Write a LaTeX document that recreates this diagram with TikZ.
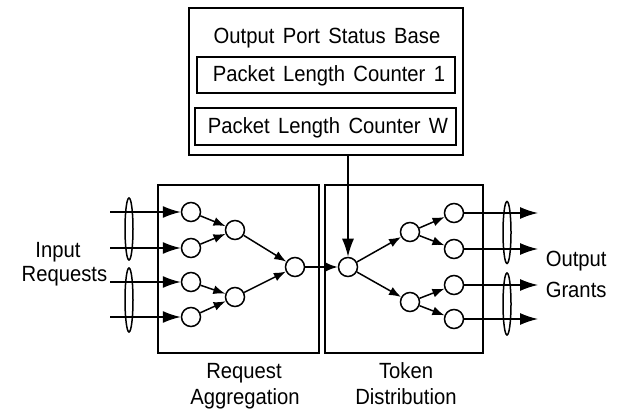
\documentclass[tikz,border=0pt]{standalone}
\usepackage{fontspec}
\setmainfont[WordSpace=1.5,FakeStretch=0.92]{Liberation Sans}
\usetikzlibrary{arrows.meta}
\tikzset{
  sw/.style={draw,circle,minimum size=19pt,inner sep=0pt,fill=white},
  blk/.style={draw,inner sep=0pt},
  lbl/.style={font=\fontsize{22}{25}\selectfont,inner sep=0pt},
  inarr/.style={-{Latex[length=18pt,width=12pt]}},
  arr/.style={-{Latex[length=12pt,width=9pt]}}
}
\begin{document}
\begin{tikzpicture}[x=1pt,y=-1pt,line width=1.5pt]
	\useasboundingbox (0,0) rectangle (623,411);
	\node[blk,minimum width=274,minimum height=147] (osb) at (326,81.5) {};
	\node[lbl,anchor=base] (osbt) at (327,44) {Output Port Status Base};
	\node[blk,minimum width=258,minimum height=36] (plc1) at (326,75) {};
	\node[lbl,anchor=base] (plc1t) at (329,82) {Packet Length Counter 1};
	\node[blk,minimum width=261,minimum height=37] (plcw) at (325.5,126.5) {};
	\node[lbl,anchor=base] (plcwt) at (328,133.5) {Packet Length Counter W};
	\node[blk,minimum width=161,minimum height=168] (agg) at (238.5,269) {};
	\node[blk,minimum width=158,minimum height=168] (tok) at (404,269) {};
	\node[lbl,anchor=base] (aggt1) at (244,378) {Request};
	\node[lbl,anchor=base] (aggt2) at (245,404) {Aggregation};
	\node[lbl,anchor=base] (tokt1) at (406,378) {Token};
	\node[lbl,anchor=base] (tokt2) at (406,404) {Distribution};
	\node[lbl,anchor=base] (inpt1) at (58,258) {Input};
	\node[lbl,anchor=base east] (inpt2) at (108,282) {Requests};
	\node[lbl,anchor=base west] (outt1) at (545,267) {Output};
	\node[lbl,anchor=base west] (outt2) at (545,298) {Grants};
	\foreach \n/\y in {1/212,2/248,3/282,4/317} {
		\node[sw] (a\n) at (191,\y) {};
		\coordinate (in\n) at (110,\y);
	}
	\foreach \n/\y in {1/213,2/249,3/285,4/319} {
		\node[sw] (v\n) at (454,\y) {};
		\coordinate (out\n) at (538,\y);
	}
	\node[sw] (b1) at (235,230) {};
	\node[sw] (b2) at (235,297) {};
	\node[sw] (c) at (295,267) {};
	\node[sw] (t0) at (348,267) {};
	\node[sw] (u1) at (410,232) {};
	\node[sw] (u2) at (410,302) {};
	\foreach \n in {1,...,4} {
		\draw[inarr] (in\n) -- (a\n);
		\draw[inarr] (v\n) -- (out\n);
	}
	\draw[arr] (a1) -- (b1);
	\draw[arr] (a2) -- (b1);
	\draw[arr] (a3) -- (b2);
	\draw[arr] (a4) -- (b2);
	\draw[arr] (b1) -- (c);
	\draw[arr] (b2) -- (c);
	\draw[arr] (c) -- (t0);
	\draw[inarr] (osb.south -| t0.north) -- (t0.north);
	\draw[arr] (t0) -- (u1);
	\draw[arr] (t0) -- (u2);
	\draw[arr] (u1) -- (v1);
	\draw[arr] (u1) -- (v2);
	\draw[arr] (u2) -- (v3);
	\draw[arr] (u2) -- (v4);
	\draw (129,229) ellipse [x radius=4,y radius=31];
	\draw (129,300) ellipse [x radius=4,y radius=32];
	\draw (507,232.5) ellipse [x radius=4,y radius=31];
	\draw (507,304) ellipse [x radius=4,y radius=31];
\end{tikzpicture}
\end{document}
